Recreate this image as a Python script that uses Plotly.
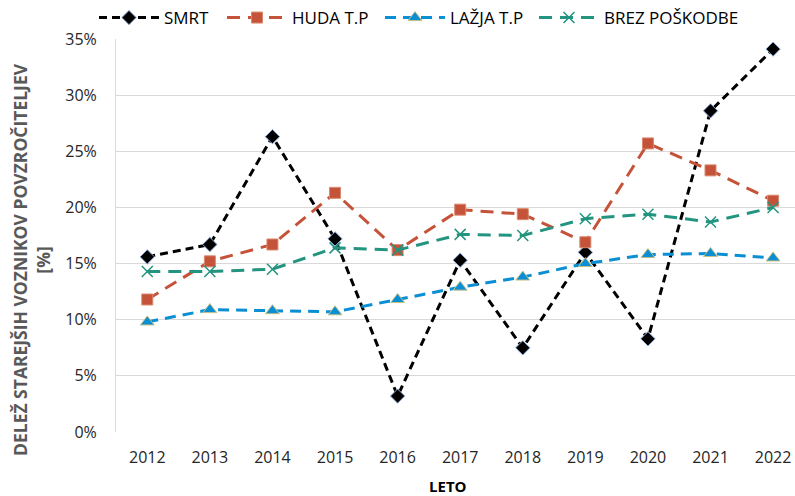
import plotly.graph_objects as go

# Share of older drivers causing accidents, by outcome, per year
years = ["2012", "2013", "2014", "2015", "2016", "2017", "2018", "2019", "2020", "2021", "2022"]
smrt = [15.6, 16.7, 26.3, 17.2, 3.2, 15.3, 7.5, 16.0, 8.3, 28.6, 34.1]
huda = [11.8, 15.2, 16.7, 21.3, 16.2, 19.8, 19.4, 16.9, 25.7, 23.3, 20.6]
lazja = [9.8, 10.9, 10.8, 10.7, 11.8, 12.9, 13.8, 15.0, 15.8, 15.9, 15.5]
brez = [14.3, 14.3, 14.5, 16.4, 16.2, 17.6, 17.5, 19.0, 19.4, 18.7, 20.0]

y_ticks = [0, 5, 10, 15, 20, 25, 30, 35]
y_tick_labels = [f"{v}%" for v in y_ticks]

FONT = "Open Sans"
PLOT_L, PLOT_W, PLOT_T, PLOT_H = 116, 679, 39, 393

fig = go.Figure()

fig.add_trace(go.Scatter(
    x=years, y=smrt, name="SMRT", mode="lines+markers", legend="legend",
    line=dict(color="#000000", width=3, dash="8px,5px"),
    marker=dict(symbol="diamond", size=11, color="#000000",
                line=dict(color="#8EA9DB", width=1)),
))
fig.add_trace(go.Scatter(
    x=years, y=huda, name="HUDA T.P", mode="lines+markers", legend="legend2",
    line=dict(color="#C5533A", width=3, dash="13px,8px"),
    marker=dict(symbol="square", size=11, color="#C5533A",
                line=dict(color="#D98A6E", width=1)),
))
fig.add_trace(go.Scatter(
    x=years, y=lazja, name="LAŽJA T.P", mode="lines+markers", legend="legend3",
    line=dict(color="#0A8FD4", width=3, dash="11px,7px"),
    marker=dict(symbol="triangle-up", size=12, color="#0A8FD4",
                line=dict(color="#C8BF85", width=1)),
))
fig.add_trace(go.Scatter(
    x=years, y=brez, name="BREZ POŠKODBE", mode="lines+markers", legend="legend4",
    line=dict(color="#23947F", width=3, dash="13px,8px"),
    marker=dict(symbol="x-thin", size=11, color="#23947F",
                line=dict(color="#23947F", width=1.5)),
))


def legend_at(px):
    # one-entry legend box whose left edge sits at pixel px of the figure
    return dict(
        orientation="h", x=(px - PLOT_L) / PLOT_W, xanchor="left",
        y=1 + 21 / PLOT_H, yanchor="middle",
        font=dict(family=FONT, size=17, color="#000000"),
        itemwidth=60, bgcolor="rgba(0,0,0,0)",
    )


fig.update_layout(
    width=795, height=496,
    margin=dict(l=PLOT_L, r=0, t=PLOT_T, b=64),
    paper_bgcolor="white", plot_bgcolor="white",
    font=dict(family=FONT, size=16, color="#262626"),
    showlegend=True,
    legend=legend_at(94),
    legend2=legend_at(222),
    legend3=legend_at(380),
    legend4=legend_at(534),
    xaxis=dict(
        type="category", range=[-0.5, 10.35],
        showgrid=False, showline=False, ticks="",
        tickfont=dict(family=FONT, size=16, color="#262626"),
        ticklabelstandoff=14,
        fixedrange=True,
    ),
    yaxis=dict(
        range=[0, 35], tickmode="array", tickvals=y_ticks, ticktext=y_tick_labels,
        showgrid=True, gridcolor="#D9D9D9", gridwidth=1,
        showline=True, linecolor="#D9D9D9", linewidth=1,
        zeroline=False, ticks="",
        tickfont=dict(family=FONT, size=16, color="#262626"),
        ticklabelstandoff=15,
        fixedrange=True,
    ),
    annotations=[
        dict(text="<b>DELEŽ STAREJŠIH VOZNIKOV POVZROČITELJEV<br>[%]</b>",
             xref="paper", yref="paper", x=(31 - PLOT_L) / PLOT_W, y=(432 - 260) / PLOT_H,
             xanchor="center", yanchor="middle", textangle=-90,
             showarrow=False, font=dict(family=FONT, size=17.5, color="#595959")),
        dict(text="<b>LETO</b>", xref="paper", yref="paper",
             x=(448 - PLOT_L) / PLOT_W, y=-54 / PLOT_H, xanchor="center", yanchor="middle",
             showarrow=False, font=dict(family=FONT, size=15, color="#000000")),
    ],
)

fig.write_html("out.html")
